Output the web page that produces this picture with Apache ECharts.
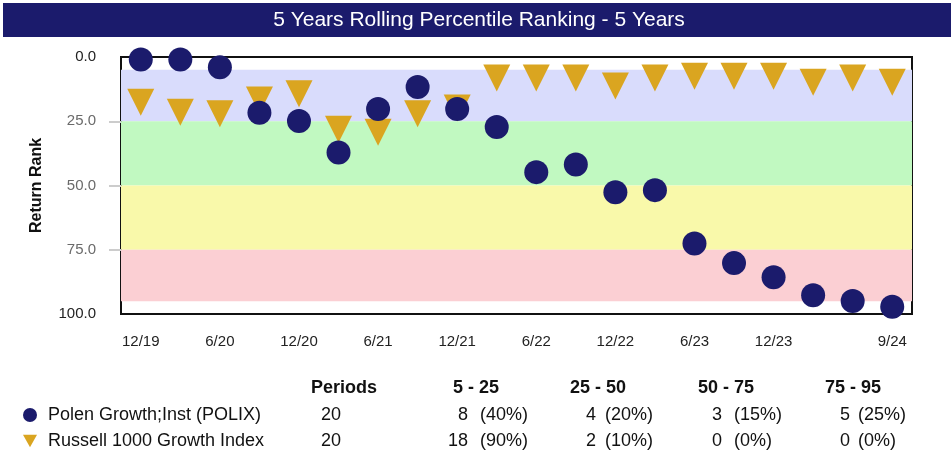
<!DOCTYPE html>
<html>
<head>
<meta charset="utf-8">
<script src="https://cdn.jsdelivr.net/npm/echarts@6/dist/echarts.min.js"></script>
<style>
  html, body { margin: 0; padding: 0; background: #fff; }
  #chart { width: 951px; height: 457px; }
</style>
</head>
<body>
<div id="chart"></div>
<script>
// quarter-end dates
const categories = ['12/19', '3/20', '6/20', '9/20', '12/20', '3/21', '6/21', '9/21', '12/21', '3/22',
  '6/22', '9/22', '12/22', '3/23', '6/23', '9/23', '12/23', '3/24', '6/24', '9/24'];

// percentile ranks (0 = best)
const polenRank = [1, 1, 4, 21.7, 24.9, 37.2, 20.2, 11.7, 20.2, 27.2,
  44.8, 41.8, 52.6, 51.8, 72.6, 80.2, 85.7, 92.7, 94.9, 97.2];
const russellRank = [17.6, 21.5, 22.1, 16.7, 14.3, 28.1, 29.3, 22.1, 19.8, 8.2,
  8.2, 8.2, 11.3, 8.2, 7.5, 7.5, 7.5, 9.8, 8.2, 9.8];

const seriesNames = ['Polen Growth;Inst (POLIX)', 'Russell 1000 Growth Index'];
const yTicks = [0, 25, 50, 75, 100];

// quartile bands
const bands = [[5, 25, '#D9DCFC'], [25, 50, '#C1F9C1'], [50, 75, '#F9F9AA'], [75, 95, '#FBCFD3']];

// table under the chart
const tableHeaders = ['Periods', '5 - 25', '25 - 50', '50 - 75', '75 - 95'];
const periods = [20, 20];
const polenCounts = [8, 4, 3, 5];
const polenPcts = ['(40%)', '(20%)', '(15%)', '(25%)'];
const russellCounts = [18, 2, 0, 0];
const russellPcts = ['(90%)', '(10%)', '(0%)', '(0%)'];

const NAVY = '#1b1b6c';
const GOLD = '#DAA520';
const FONT = 'Liberation Sans, Arial, sans-serif';
const DOWN_TRIANGLE = 'path://M0,0 L10,0 L5,9 Z';

const chart = echarts.init(document.getElementById('chart'));

//表格文字
const headerX = [344, 476, 598, 726, 853];
const countRight = [468, 596, 722, 850];
const pctLeft = [480, 605, 734, 858];
const rowY = [415, 441];
const graphics = [];

graphics.push({
  type: 'rect', left: 3, top: 3, z: 0,
  shape: { width: 948, height: 34 },
  style: { fill: NAVY }
});
graphics.push({
  type: 'text', x: 479, y: 20, z: 1,
  style: { text: '5 Years Rolling Percentile Ranking - 5 Years', fill: '#fff',
    font: 'normal 21px ' + FONT, align: 'center', verticalAlign: 'middle' }
});

tableHeaders.forEach(function (h, i) {
  graphics.push({
    type: 'text', x: headerX[i], y: 388,
    style: { text: h, fill: '#111', font: 'bold 18px ' + FONT, align: 'center', verticalAlign: 'middle' }
  });
});

[[polenCounts, polenPcts], [russellCounts, russellPcts]].forEach(function (row, r) {
  graphics.push({
    type: 'text', x: 331, y: rowY[r],
    style: { text: String(periods[r]), fill: '#111', font: '18px ' + FONT, align: 'center', verticalAlign: 'middle' }
  });
  row[0].forEach(function (c, i) {
    graphics.push({
      type: 'text', x: countRight[i], y: rowY[r],
      style: { text: String(c), fill: '#111', font: '18px ' + FONT, align: 'right', verticalAlign: 'middle' }
    });
    graphics.push({
      type: 'text', x: pctLeft[i], y: rowY[r],
      style: { text: row[1][i], fill: '#111', font: '18px ' + FONT, align: 'left', verticalAlign: 'middle' }
    });
  });
});

const option = {
  animation: false,
  backgroundColor: '#fff',
  textStyle: { fontFamily: FONT },
  grid: {
    left: 121, right: 39, top: 57, bottom: 143,
    show: true, borderColor: '#111', borderWidth: 2, backgroundColor: '#fff'
  },
  legend: {
    orient: 'vertical',
    left: 23, top: 406,
    padding: 0,
    itemWidth: 14, itemHeight: 14, itemGap: 8,
    data: [
      { name: seriesNames[0], icon: 'circle' },
      { name: seriesNames[1], icon: DOWN_TRIANGLE }
    ],
    textStyle: { fontSize: 18, lineHeight: 18, color: '#111', padding: [0, 0, 0, 6] }
  },
  xAxis: {
    type: 'category',
    data: categories,
    axisLine: { show: false },
    axisTick: {
      alignWithLabel: true,
      length: 10,
      interval: function (i) { return i % 2 === 0 || i === categories.length - 1; },
      lineStyle: { color: '#ccc', width: 2 }
    },
    axisLabel: {
      margin: 20,
      fontSize: 15,
      color: '#222',
      interval: function (i) { return (i % 2 === 0 && i < 18) || i === categories.length - 1; }
    },
    splitLine: { show: false }
  },
  yAxis: {
    type: 'value',
    inverse: true,
    min: 0, max: 100, interval: 25,
    name: 'Return Rank',
    nameLocation: 'middle',
    nameGap: 76,
    nameTextStyle: { fontSize: 16, fontWeight: 'bold', color: '#111' },
    axisLine: { show: false },
    axisTick: { show: true, length: 12, customValues: [25, 50, 75], lineStyle: { color: '#ccc', width: 2 } },
    axisLabel: {
      margin: 25,
      fontSize: 15,
      customValues: yTicks,
      formatter: function (v) {
        return (v === 0 || v === 100) ? '{d|' + v.toFixed(1) + '}' : '{g|' + v.toFixed(1) + '}';
      },
      rich: { d: { color: '#222', fontSize: 15 }, g: { color: '#6a6a6a', fontSize: 15 } }
    },
    splitLine: { show: false }
  },
  graphic: graphics,
  series: [
    {
      name: seriesNames[1],
      type: 'scatter',
      data: russellRank,
      symbol: 'triangle',
      symbolRotate: 180,
      symbolSize: 27,
      clip: false,
      z: 3,
      itemStyle: { color: GOLD, opacity: 1 },
      markArea: {
        silent: true,
        itemStyle: { opacity: 1 },
        data: bands.map(function (b) {
          return [{ yAxis: b[0], itemStyle: { color: b[2] } }, { yAxis: b[1] }];
        })
      }
    },
    {
      name: seriesNames[0],
      type: 'scatter',
      data: polenRank,
      symbol: 'circle',
      symbolSize: 24,
      clip: false,
      z: 4,
      itemStyle: { color: NAVY, opacity: 1 }
    }
  ]
};

chart.setOption(option);
window.addEventListener('resize', function () { chart.resize(); });
</script>
</body>
</html>
